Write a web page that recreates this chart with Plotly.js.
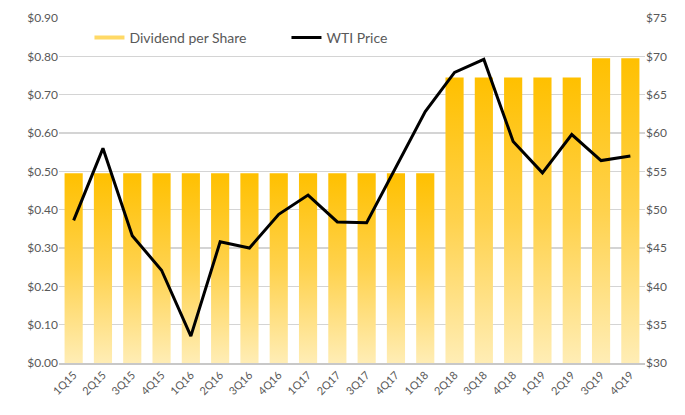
<!DOCTYPE html>
<html>
<head>
<meta charset="utf-8">
<script src="https://cdn.plot.ly/plotly-3.0.1.min.js"></script>
<style>
html,body{margin:0;padding:0;background:#fff;}
#chart{width:685px;height:415px;}
</style>
</head>
<body>
<div id="chart"></div>
<script>
var quarters = ["1Q15","2Q15","3Q15","4Q15","1Q16","2Q16","3Q16","4Q16","1Q17","2Q17","3Q17","4Q17","1Q18","2Q18","3Q18","4Q18","1Q19","2Q19","3Q19","4Q19"];
var dividendPerShare = [0.495,0.495,0.495,0.495,0.495,0.495,0.495,0.495,0.495,0.495,0.495,0.495,0.495,0.745,0.745,0.745,0.745,0.745,0.795,0.795];
var wtiPrice = [48.6,58.0,46.6,42.1,33.5,45.8,45.0,49.4,51.9,48.4,48.3,55.6,62.8,67.9,69.6,58.9,54.8,59.8,56.4,57.0];
var leftTicks = [0,0.1,0.2,0.3,0.4,0.5,0.6,0.7,0.8,0.9];
var rightTicks = [30,35,40,45,50,55,60,65,70,75];
var rightTickText = ["$30","$35","$40","$45","$50","$55","$60","$65","$70","$75"];

var FONT = "Lato, 'Open Sans', sans-serif";
var GRAY = "#595959";

var traces = [
  {
    type: "bar", x: quarters, y: dividendPerShare, name: "Dividend per Share",
    marker: {color: "#FFCC33", line: {width: 0}}, showlegend: false,
    hoverinfo: "x+y"
  },
  {
    type: "scatter", mode: "lines", x: [quarters[0]], y: [null], name: "Dividend per Share",
    line: {color: "#FFD966", width: 4}, showlegend: true, hoverinfo: "skip"
  },
  {
    type: "scatter", mode: "lines", x: quarters, y: wtiPrice, name: "WTI Price", yaxis: "y2",
    line: {color: "#000000", width: 3}
  }
];

var layout = {
  width: 685, height: 415,
  margin: {l: 59, r: 40, t: 18, b: 52},
  paper_bgcolor: "#fff", plot_bgcolor: "#fff",
  font: {family: FONT, color: GRAY, size: 12},
  bargap: 0.38,
  showlegend: true,
  legend: {orientation: "h", x: 0.052, xanchor: "left", y: 0.942, yanchor: "middle",
           font: {family: FONT, size: 14, color: GRAY}, bgcolor: "rgba(0,0,0,0)",
           entrywidth: 152, entrywidthmode: "pixels"},
  xaxis: {
    type: "category", tickangle: -45, tickfont: {family: FONT, size: 11, color: GRAY},
    showgrid: false, showline: true, linecolor: "#c8c8c8", linewidth: 1.5, ticks: "",
    fixedrange: true
  },
  yaxis: {
    range: [0, 0.9], tickvals: leftTicks, tickformat: "$.2f",
    tickfont: {family: FONT, size: 12, color: GRAY},
    showgrid: true, gridcolor: "#d4d4d4", gridwidth: 1.5, zeroline: false,
    showline: false, ticks: "", ticklen: 0, fixedrange: true
  },
  yaxis2: {
    overlaying: "y", side: "right", range: [30, 75], tickvals: rightTicks, ticktext: rightTickText,
    tickfont: {family: FONT, size: 12, color: GRAY},
    showgrid: false, zeroline: false, showline: false, ticks: "", fixedrange: true
  }
};

function applyGradient(gd){
  var svg = gd.querySelector("svg.main-svg");
  if(!svg) return;
  var ns = "http://www.w3.org/2000/svg";
  var defs = svg.querySelector("defs");
  if(!defs){ defs = document.createElementNS(ns, "defs"); svg.insertBefore(defs, svg.firstChild); }
  if(!svg.querySelector("#barGrad")){
    var g = document.createElementNS(ns, "linearGradient");
    g.setAttribute("id", "barGrad");
    g.setAttribute("x1", "0"); g.setAttribute("y1", "0");
    g.setAttribute("x2", "0"); g.setAttribute("y2", "1");
    var stops = [["0", "#FFC000"], ["0.5", "#FFD24D"], ["1", "#FFEDB5"]];
    stops.forEach(function(s){
      var st = document.createElementNS(ns, "stop");
      st.setAttribute("offset", s[0]); st.setAttribute("stop-color", s[1]);
      g.appendChild(st);
    });
    defs.appendChild(g);
  }
  gd.querySelectorAll(".barlayer .point path").forEach(function(p){
    p.style.fill = "url(#barGrad)";
  });
}

var gd = document.getElementById("chart");
Plotly.newPlot(gd, traces, layout, {displayModeBar: false, staticPlot: true}).then(function(){
  applyGradient(gd);
  gd.on && gd.on("plotly_afterplot", function(){ applyGradient(gd); });
});
</script>
</body>
</html>
